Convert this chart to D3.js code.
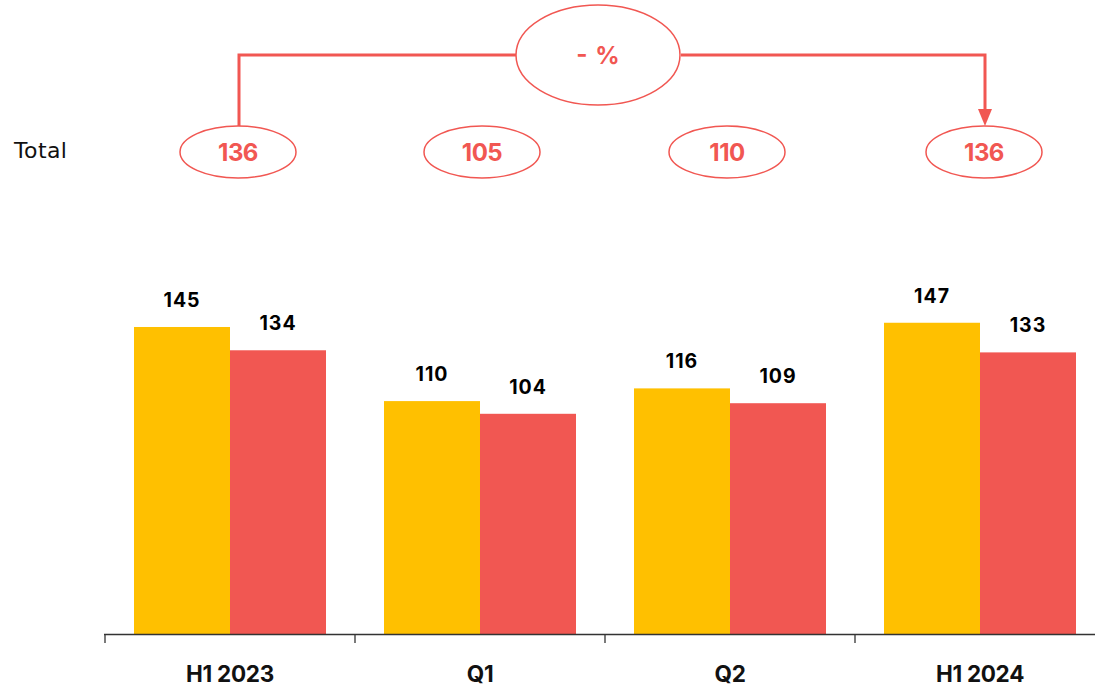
<!DOCTYPE html>
<html><head><meta charset="utf-8">
<script src="https://cdn.jsdelivr.net/npm/d3@7"></script>
<style>body{margin:0;background:#fff}svg{display:block;font-family:Inter,"Open Sans",sans-serif}</style>
</head><body><svg id="c" width="1095" height="688"></svg>
<script>
const categories = ["H1 2023","Q1","Q2","H1 2024"];
const series = ["A","B"];
const valuesA = [145,110,116,147];
const valuesB = [134,104,109,133];
const totals = ["136","105","110","136"];
const totalOffsets = [8,2,-3,4];
const changeLabel = "- %";
const rowLabel = "Total";
const colors = ["#FFC000","#F15752"];
const red = "#F15752";

const svg = d3.select("#c");
const x = d3.scaleBand().domain(categories).range([105,1105]);
const xi = d3.scaleBand().domain(series).range([29,221]);
const y = d3.scaleLinear().domain([0,150]).range([634,316.4]);

const data = categories.map((c,i)=>({c, vals:[valuesA[i],valuesB[i]]}));
const g = svg.selectAll("g.grp").data(data).join("g").attr("transform",d=>`translate(${x(d.c)},0)`);
g.selectAll("rect").data(d=>d.vals.map((v,j)=>({s:series[j],v,j}))).join("rect")
 .attr("x",d=>xi(d.s)).attr("width",xi.bandwidth())
 .attr("y",d=>y(d.v)).attr("height",d=>y(0)-y(d.v)).attr("fill",d=>colors[d.j]);
g.selectAll("text").data(d=>d.vals.map((v,j)=>({s:series[j],v,j}))).join("text")
 .attr("x",d=>xi(d.s)+xi.bandwidth()/2).attr("y",d=>y(d.v)-20)
 .attr("text-anchor","middle").attr("font-size",19.5).attr("font-weight",700).attr("fill","#000")
 .attr("letter-spacing",1).text(d=>d.v);

// axis
svg.append("line").attr("x1",104).attr("x2",1095).attr("y1",634.5).attr("y2",634.5).attr("stroke","#333").attr("stroke-width",1.3);
svg.selectAll("line.tick").data(categories).join("line").attr("class","tick")
 .attr("x1",d=>x(d)).attr("x2",d=>x(d)).attr("y1",634).attr("y2",643).attr("stroke","#333").attr("stroke-width",1.3);
svg.selectAll("text.cat").data(categories).join("text").attr("class","cat")
 .attr("x",d=>x(d)+x.bandwidth()/2).attr("y",682).attr("text-anchor","middle")
 .attr("font-size",22.5).attr("font-weight",700).attr("fill","#111").attr("letter-spacing",-0.3).text(d=>d);

// totals row
svg.append("text").attr("x",14).attr("y",158).attr("font-family","'DejaVu Sans',sans-serif").attr("font-size",22).attr("letter-spacing",0.4).attr("fill","#111").text(rowLabel);
const ty = 152, rx = 58, ry = 26;
const cx = (c,i) => x(c)+x.bandwidth()/2 + totalOffsets[i];
svg.selectAll("ellipse.tot").data(categories).join("ellipse").attr("class","tot")
 .attr("cx",cx).attr("cy",ty).attr("rx",rx).attr("ry",ry).attr("fill","#fff").attr("stroke",red).attr("stroke-width",1.5);
svg.selectAll("text.tot").data(categories).join("text").attr("class","tot")
 .attr("x",cx).attr("y",ty+9).attr("text-anchor","middle").attr("font-size",24).attr("font-weight",700).attr("fill",red)
 .attr("letter-spacing",-0.5).text((c,i)=>totals[i]);

// connector
const bx = 598, by = 55;
const x0 = cx(categories[0],0)+1, x3 = cx(categories[3],3)+1;
svg.append("path").attr("d",`M${x0},${ty-ry} V${by} H${bx-82} M${bx+83},${by} H${x3} V${ty-ry-14}`)
 .attr("fill","none").attr("stroke",red).attr("stroke-width",3);
svg.append("path").attr("d",`M${x3-7},${ty-ry-17} L${x3+7},${ty-ry-17} L${x3},${ty-ry} Z`).attr("fill",red);
svg.append("ellipse").attr("cx",bx).attr("cy",by).attr("rx",82).attr("ry",50).attr("fill","#fff").attr("stroke",red).attr("stroke-width",1.5);
svg.append("text").attr("x",bx).attr("y",by+9).attr("text-anchor","middle").attr("font-size",24).attr("font-weight",700).attr("fill",red).attr("word-spacing",2).text(changeLabel);
</script></body></html>
